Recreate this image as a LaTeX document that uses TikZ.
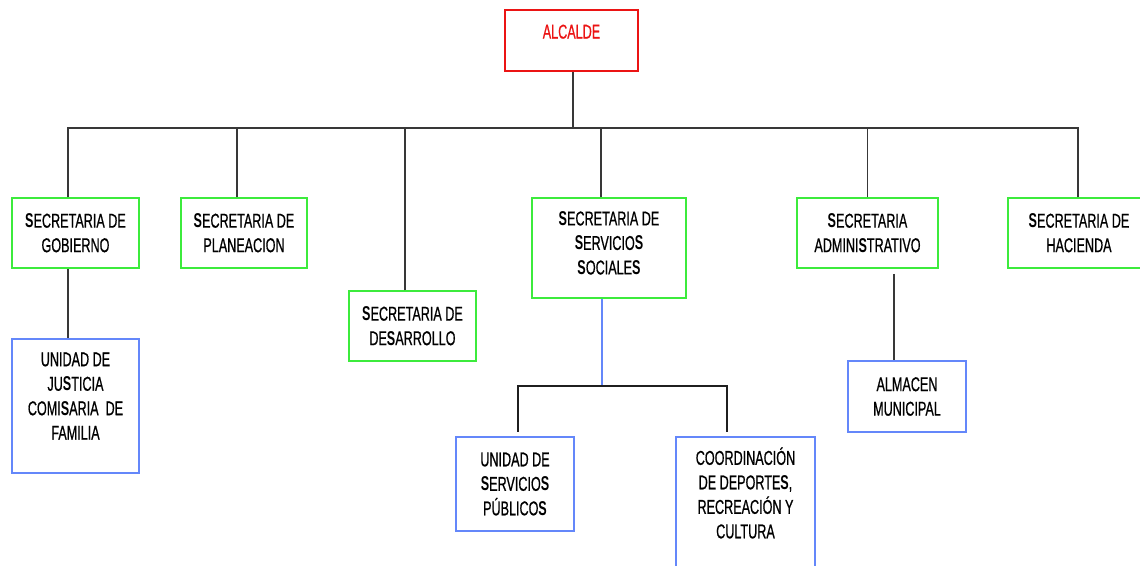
\documentclass[tikz,border=0pt]{standalone}
\usepackage{fontspec}
\setmainfont{Liberation Sans}[FakeStretch=0.63, UprightFeatures={FakeBold=0.7}]
\usepackage{xcolor}
\usetikzlibrary{positioning}
\newcommand{\bS}{\textbf{S}}

\begin{document}
\begin{tikzpicture}[x=1pt, y=-1pt,
  box/.style={rectangle, align=center, inner sep=3pt, font=\fontsize{20}{24.5}\selectfont},
  secbox/.style={box, draw=secgreen, line width=1.5pt, minimum height=70pt},
  unitbox/.style={box, draw=unitblue, line width=1.5pt},
  toptext/.style={box, anchor=north},
  link/.style={draw=black!78, line width=1.2pt}]
  \definecolor{secgreen}{RGB}{60,235,60}
  \definecolor{unitblue}{RGB}{100,135,250}
  \definecolor{alcred}{RGB}{235,20,20}
  \useasboundingbox (0,0) rectangle (1140,565);
  % top level
  \node[box, draw=alcred, line width=2.2pt, minimum width=133pt, minimum height=61pt,
    label={[toptext, text=alcred, yshift=-12.5pt]north:ALCALDE}] (alc) at (571.5,40.5) {};
  % secretarias
  \node[secbox, minimum width=127pt] (gob) at (75.5,233) {\bS ECRETARIA DE\\GOBIERNO};
  \node[secbox, minimum width=126pt] (plan) at (244,233) {\bS ECRETARIA DE\\PLANEACION};
  \node[secbox, minimum width=127pt] (des) at (412.5,326) {\bS ECRETARIA DE\\DE\bS ARROLLO};
  \node[secbox, minimum width=154pt, minimum height=100pt,
    label={[toptext, yshift=-11pt]north:\bS ECRETARIA DE\\\bS ERVICIO\bS\\\bS OCIALE\bS}] (soc) at (609,248) {};
  \node[secbox, minimum width=141pt] (adm) at (867.5,233) {\bS ECRETARIA\\ADMINI\bS TRATIVO};
  \node[secbox, minimum width=142pt] (hac) at (1079,233) {\bS ECRETARIA DE\\HACIENDA};
  % unidades
  \node[unitbox, minimum width=127pt, minimum height=134pt,
    label={[toptext, yshift=-11pt]north:UNIDAD DE\\JU\bS TICIA\\COMI\bS ARIA\ \ DE\\FAMILIA}] (just) at (75.5,406) {};
  \node[unitbox, minimum width=118pt, minimum height=94pt] (usp) at (515,484)
    {UNIDAD DE\\\bS ERVICIO\bS\\PÚBLICO\bS};
  \node[unitbox, minimum width=139pt, minimum height=140pt,
    label={[toptext, yshift=-8pt]north:COORDINACIÓN\\DE DEPORTE\bS,\\RECREACIÓN Y\\CULTURA}] (coord) at (745.5,507) {};
  \node[unitbox, minimum width=118pt, minimum height=71pt] (alm) at (907,396.5) {ALMACEN\\MUNICIPAL};
  % connectors
  \coordinate (bus) at (573,128);
  \draw[link] ([xshift=1.5pt]alc.south) -- (bus);
  \draw[link] ([xshift=-7.5pt]gob.north) |- (bus);
  \draw[link] ([xshift=-7pt]plan.north) |- (bus);
  \draw[link] ([xshift=-7.5pt]des.north) |- (bus);
  \draw[link] ([xshift=-8pt]soc.north) |- (bus);
  \draw[link] (adm.north) |- (bus);
  \draw[link] ([xshift=-1pt]hac.north) |- (bus);
  \draw[link] ([xshift=-7.5pt]gob.south) -- ([xshift=-7.5pt]just.north);
  \draw[link] ([xshift=26.5pt, yshift=-5pt]adm.south) -- ([xshift=-13pt]alm.north);
  \coordinate (sub) at (602,386);
  \draw[draw=unitblue, line width=1.2pt] ([xshift=-7pt]soc.south) -- (sub);
  \draw[draw=black!88, line width=1.2pt] (sub) -| ([xshift=3pt, yshift=4pt]usp.north);
  \draw[draw=black!88, line width=1.2pt] (sub) -| ([xshift=-18.5pt, yshift=4pt]coord.north);
\end{tikzpicture}
\end{document}
